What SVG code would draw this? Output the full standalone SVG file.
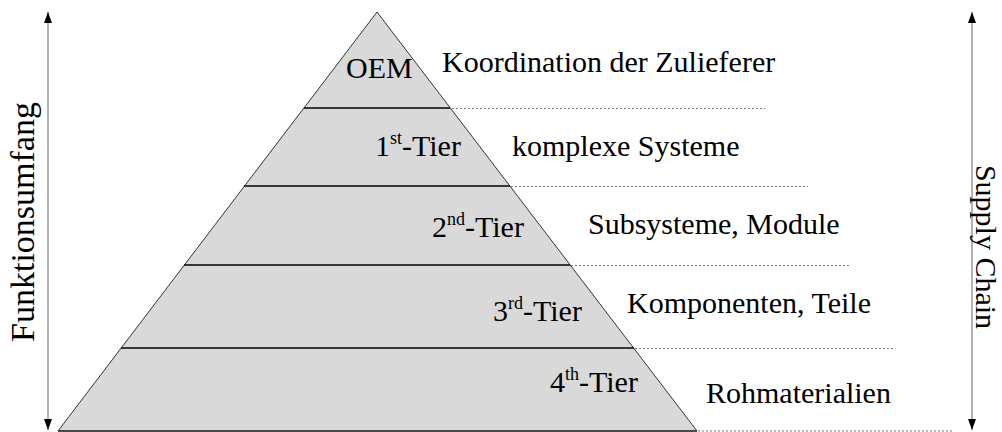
<svg xmlns="http://www.w3.org/2000/svg" width="1002" height="432" viewBox="0 0 1002 432">
  <defs>
    <marker id="head" viewBox="0 0 11 8" refX="11" refY="4" markerWidth="11" markerHeight="8" markerUnits="userSpaceOnUse" orient="auto-start-reverse">
      <path d="M0,0 L11,4 L0,8 Z" fill="#000"/>
    </marker>
    <style>
      text { font-family: "Liberation Serif", "Times New Roman", serif; fill: #000; }
      .lbl { font-size: 30px; }
      .sup { font-size: 18px; }
      .band { stroke: #000; stroke-width: 1.4; }
      .guide { stroke: #777; stroke-width: 1; stroke-dasharray: 2 2; fill: none; }
      .axis { stroke: #999; stroke-width: 1.5; fill: none; marker-start: url(#head); marker-end: url(#head); }
    </style>
  </defs>
  <rect width="1002" height="432" fill="#fff"/>

  <!-- pyramid body -->
  <g id="pyramid">
    <polygon points="377,12 697,431 58,431" fill="#d9d9d9" stroke="#333" stroke-width="1"/>
    <line class="band" x1="304" y1="108" x2="450" y2="108"/>
    <line class="band" x1="244" y1="186" x2="510" y2="186"/>
    <line class="band" x1="184" y1="265" x2="570" y2="265"/>
    <line class="band" x1="121" y1="348" x2="634" y2="348"/>
    <line x1="58" y1="431" x2="697" y2="431" stroke="#333" stroke-width="1.4"/>
  </g>

  <!-- dotted guides and axes -->
  <g id="connectors">
    <line class="guide" x1="452" y1="108.5" x2="765" y2="108.5"/>
    <line class="guide" x1="511" y1="186.5" x2="808" y2="186.5"/>
    <line class="guide" x1="571" y1="265.5" x2="850" y2="265.5"/>
    <line class="guide" x1="635" y1="348.5" x2="895" y2="348.5"/>
    <line class="guide" x1="698" y1="431" x2="953" y2="431"/>
    <path class="axis" d="M48,430 L48,12"/>
    <path class="axis" d="M972,430 L972,12"/>
  </g>

  <g id="tier-oem">
    <text class="lbl" x="346" y="78">OEM</text>
    <text class="lbl" x="442" y="72">Koordination der Zulieferer</text>
  </g>
  <g id="tier-1">
    <text class="lbl" x="375" y="156">1<tspan class="sup" dy="-12">st</tspan><tspan dy="12">-Tier</tspan></text>
    <text class="lbl" x="512" y="156">komplexe Systeme</text>
  </g>
  <g id="tier-2">
    <text class="lbl" x="432" y="237">2<tspan class="sup" dy="-12">nd</tspan><tspan dy="12">-Tier</tspan></text>
    <text class="lbl" x="588" y="234">Subsysteme, Module</text>
  </g>
  <g id="tier-3">
    <text class="lbl" x="493" y="321">3<tspan class="sup" dy="-12">rd</tspan><tspan dy="12">-Tier</tspan></text>
    <text class="lbl" x="627" y="313">Komponenten, Teile</text>
  </g>
  <g id="tier-4">
    <text class="lbl" x="550" y="392">4<tspan class="sup" dy="-12">th</tspan><tspan dy="12">-Tier</tspan></text>
    <text class="lbl" x="706" y="403">Rohmaterialien</text>
  </g>

  <g id="axis-left">
    <text transform="translate(34,222) rotate(-90)" text-anchor="middle" font-size="34">Funktionsumfang</text>
  </g>
  <g id="axis-right">
    <text transform="translate(976,247) rotate(90)" text-anchor="middle" font-size="30">Supply Chain</text>
  </g>
</svg>
